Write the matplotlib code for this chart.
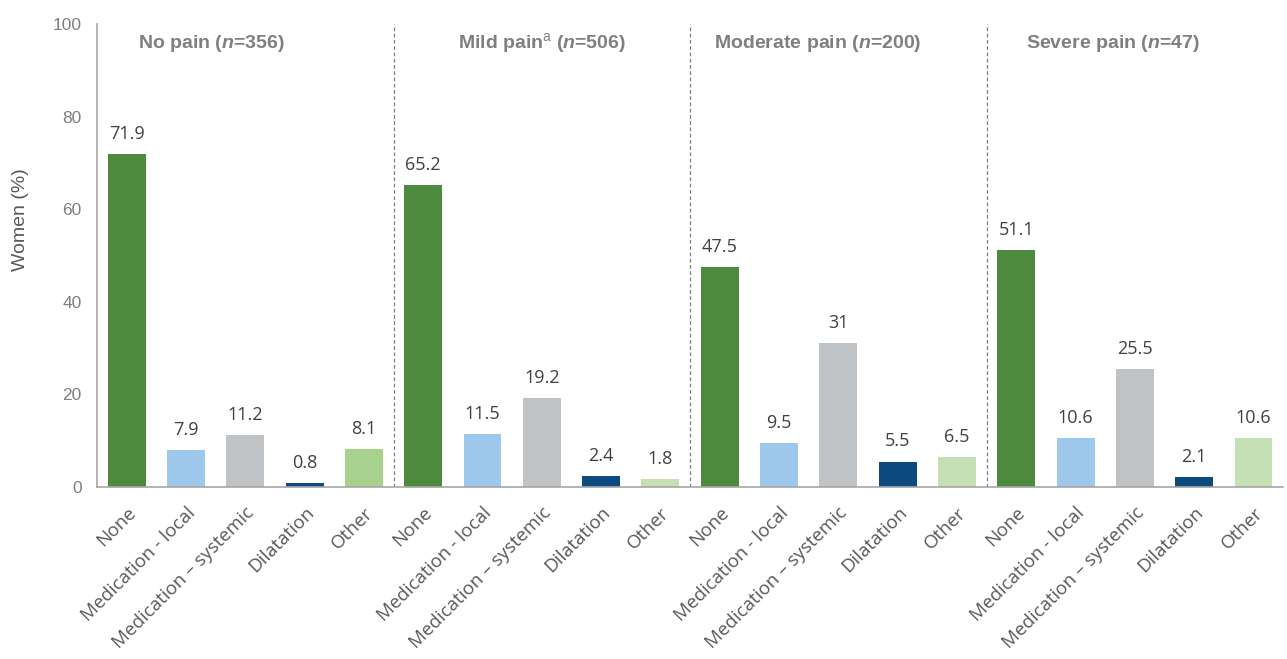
import matplotlib
matplotlib.use("Agg")
import matplotlib.pyplot as plt
import numpy as np

groups = ["No pain", "Mild pain", "Moderate pain", "Severe pain"]
group_n = [356, 506, 200, 47]
categories = ["None", "Medication - local", "Medication \u2013 systemic", "Dilatation", "Other"]
values = [
    [71.9, 7.9, 11.2, 0.8, 8.1],
    [65.2, 11.5, 19.2, 2.4, 1.8],
    [47.5, 9.5, 31, 5.5, 6.5],
    [51.1, 10.6, 25.5, 2.1, 10.6],
]
yticks = [0, 20, 40, 60, 80, 100]

cat_colors = ["#4E8A3E", "#9DC8EC", "#BFC3C5", "#0D4A7E", "#C5E0B4"]
first_other = "#A9D18E"
title_offsets = [-0.58, 0.0, -0.34, -0.37]

plt.rcParams['mathtext.fontset'] = 'custom'
plt.rcParams['mathtext.rm'] = 'Liberation Sans'
plt.rcParams['mathtext.it'] = 'Liberation Sans:italic:bold'
plt.rcParams['mathtext.bf'] = 'Liberation Sans:bold'

fig = plt.figure(figsize=(12.87, 6.59), dpi=100)
ax = fig.add_axes([0.0754, 0.261, 0.9216, 0.7026])

ncat = len(categories)
xs, hs, cols, labels = [], [], [], []
for g, vals in enumerate(values):
    for c, v in enumerate(vals):
        xs.append(g * ncat + c)
        hs.append(v)
        col = cat_colors[c]
        if c == 4 and g == 0:
            col = first_other
        cols.append(col)
        labels.append(categories[c])

ax.bar(xs, hs, width=0.64, color=cols)
for x, h in zip(xs, hs):
    ax.text(x, h + 2.4, f"{h:g}", ha='center', va='bottom', fontsize=13,
            color='#404040', family='Open Sans')

ax.set_xlim(-0.5, len(xs) - 0.5)
ax.set_ylim(0, 100)
ax.set_yticks(yticks)
ax.set_yticklabels([str(t) for t in yticks], fontsize=12.5, color='#7F7F7F', family='Liberation Sans')
ax.tick_params(axis='y', length=0, pad=11)
ax.set_xticks(xs)
ax.set_xticklabels(labels, rotation=45, ha='right', rotation_mode='anchor',
                   fontsize=13.5, color='#595959', family='Open Sans')
ax.tick_params(axis='x', length=0, pad=12)
ax.set_ylabel("Women (%)", fontsize=14, color='#595959', family='Liberation Sans')
ax.yaxis.set_label_coords(-0.057, 0.577)

for s in ['top', 'right']:
    ax.spines[s].set_visible(False)
ax.spines['left'].set_color('#A6A6A6')
ax.spines['bottom'].set_color('#A6A6A6')
ax.spines['left'].set_linewidth(1.2)
ax.spines['bottom'].set_linewidth(1.2)

for g in range(1, len(groups)):
    ax.axvline(g * ncat - 0.5, color='#7F7F7F', linestyle=(0, (3, 2)), linewidth=0.9, ymin=0, ymax=1)

for g, (name, n) in enumerate(zip(groups, group_n)):
    sup = r"$^{\mathrm{a}}$" if g == 1 else ""
    title = name + sup + r" ($\mathit{n}$=" + str(n) + ")"
    ax.text(g * ncat + 2 + title_offsets[g], 95.8, title, ha='center', va='center', fontsize=14,
            fontweight='bold', color='#7F7F7F', family='Liberation Sans')

fig.savefig("out.png", dpi=100)
